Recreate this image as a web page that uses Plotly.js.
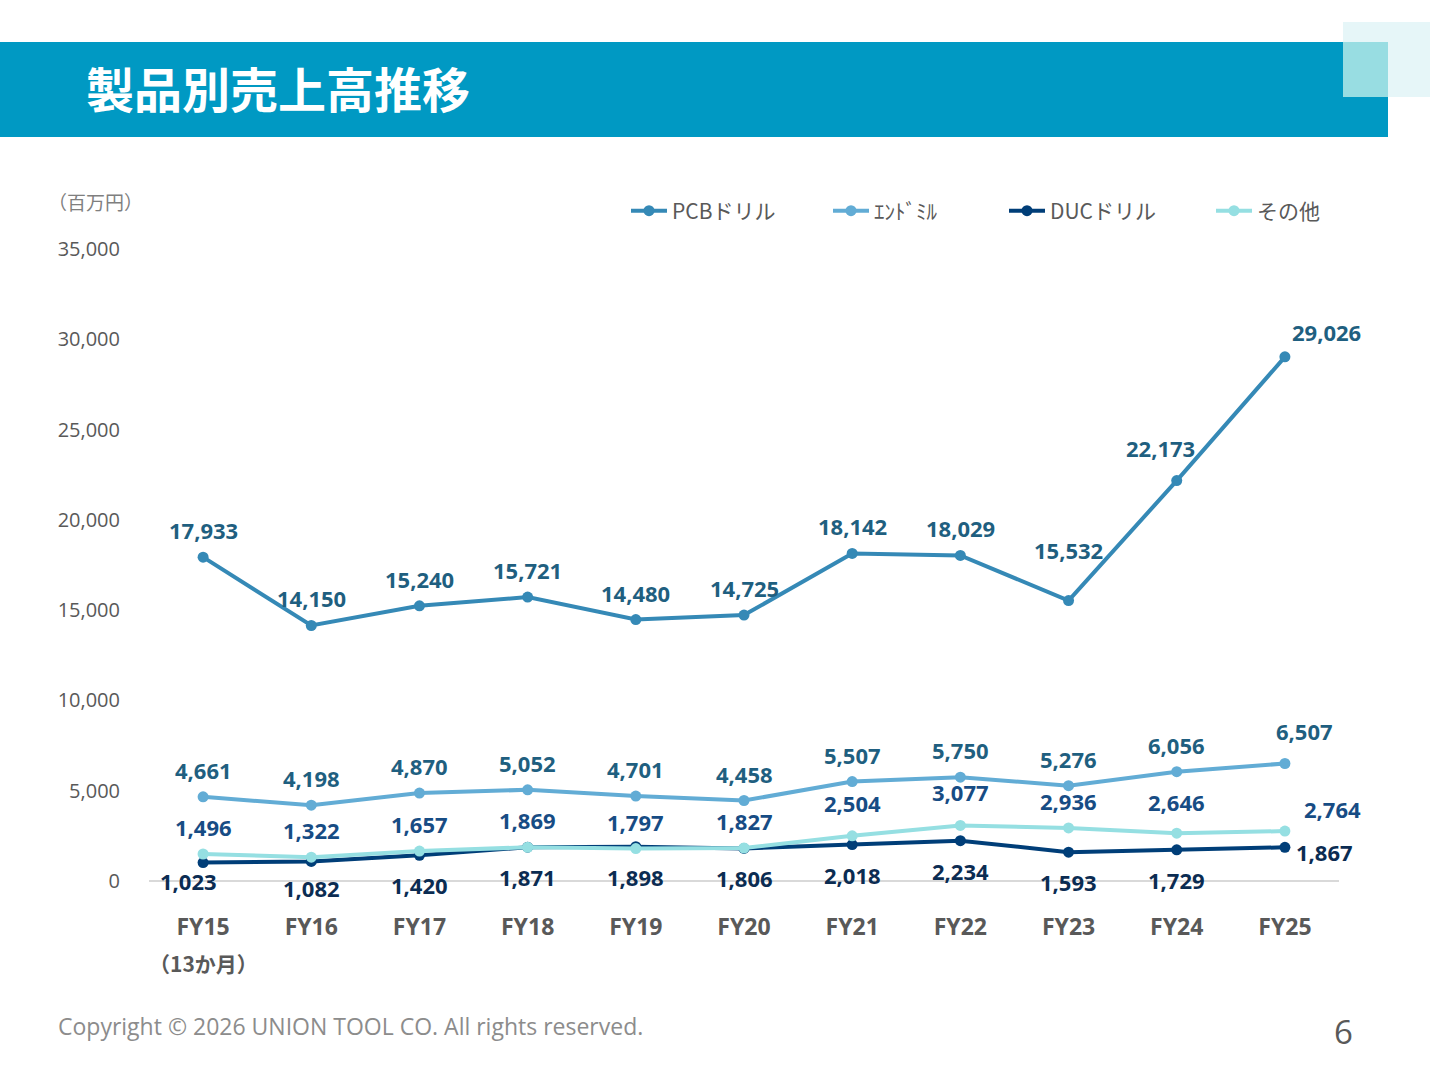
<!DOCTYPE html>
<html>
<head>
<meta charset="utf-8">
<script src="https://cdn.plot.ly/plotly-3.0.1.min.js"></script>
<style>
  html, body { margin: 0; padding: 0; background: #fff; }
  #chart { width: 1440px; height: 1080px; }
</style>
</head>
<body>
<div id="chart"></div>
<script>
'use strict';

const years = ["FY15", "FY16", "FY17", "FY18", "FY19", "FY20", "FY21", "FY22", "FY23", "FY24", "FY25"];
const pcbDrill = [17933, 14150, 15240, 15721, 14480, 14725, 18142, 18029, 15532, 22173, 29026];
const endMill = [4661, 4198, 4870, 5052, 4701, 4458, 5507, 5750, 5276, 6056, 6507];
const ducDrill = [1023, 1082, 1420, 1871, 1898, 1806, 2018, 2234, 1593, 1729, 1867];
const others = [1496, 1322, 1657, 1869, 1797, 1827, 2504, 3077, 2936, 2646, 2764];
const seriesNames = ["PCBドリル", "ｴﾝﾄﾞﾐﾙ", "DUCドリル", "その他"];
const yTicks = [0, 5000, 10000, 15000, 20000, 25000, 30000, 35000];

const jpFont = '"Noto Sans CJK JP", "Noto Sans", sans-serif';
const labelFont = '"Open Sans", "Noto Sans", sans-serif';

// plot box in pixels, used to place the page decorations
const plotLeft = 149, plotWidth = 1190, plotTop = 249, plotHeight = 632;
const px = x => (x - plotLeft) / plotWidth;
const py = y => (plotTop + plotHeight - y) / plotHeight;

function makeTrace(name, values, lineColor, legendId) {
  return {
    type: "scatter",
    mode: "lines+markers",
    name: name,
    x: years,
    y: values,
    legend: legendId,
    line: { color: lineColor, width: 4 },
    marker: { color: lineColor, size: 11 },
    cliponaxis: false,
    hoverinfo: "skip"
  };
}

// data labels: default offset per series plus a few nudged points
function makeLabels(values, color, dy, nudges) {
  return values.map((v, i) => {
    let n = nudges[i] || {};
    return {
      x: years[i], y: v, xref: "x", yref: "y",
      text: v.toLocaleString("en-US"),
      showarrow: false,
      xanchor: "center", yanchor: "middle",
      xshift: n.x || 0,
      yshift: n.y !== undefined ? n.y : dy,
      font: { family: labelFont, size: 22, color: color, weight: 700 }
    };
  });
}

const traces = [
  makeTrace(seriesNames[0], pcbDrill, "#3589b6", "legend"),
  makeTrace(seriesNames[1], endMill, "#62acd5", "legend2"),
  makeTrace(seriesNames[2], ducDrill, "#003e78", "legend3"),
  makeTrace(seriesNames[3], others, "#95dfe2", "legend4")
];

const labelAnnotations = [].concat(
  makeLabels(pcbDrill, "#1f5f80", 27, { 8: { y: 51 }, 9: { x: -16, y: 33 }, 10: { x: 42, y: 25 } }),
  makeLabels(endMill, "#1f5f80", 27, { 10: { x: 20, y: 33 } }),
  makeLabels(others, "#174c84", 27, { 6: { y: 33 }, 7: { y: 33 }, 9: { y: 31 }, 10: { x: 48, y: 22 } }),
  makeLabels(ducDrill, "#0b2c52", -30, { 0: { x: -15, y: -18 }, 1: { y: -27 }, 10: { x: 40, y: -5 } })
);

function legendAt(xPix) {
  return {
    orientation: "h",
    x: px(xPix), xanchor: "left",
    y: py(211), yanchor: "middle",
    font: { family: jpFont, size: 21, color: "#595959" },
    bgcolor: "rgba(0,0,0,0)",
    itemwidth: 36
  };
}

const layout = {
  width: 1440,
  height: 1080,
  margin: { l: plotLeft, r: 1440 - plotLeft - plotWidth, t: plotTop, b: 1080 - plotTop - plotHeight },
  paper_bgcolor: "#ffffff",
  plot_bgcolor: "#ffffff",
  showlegend: true,
  legend: legendAt(626),
  legend2: legendAt(828),
  legend3: legendAt(1004),
  legend4: legendAt(1211),
  xaxis: {
    type: "category",
    range: [-0.5, 10.5],
    showgrid: false,
    zeroline: false,
    showline: false,
    ticks: "",
    ticklabelstandoff: 30,
    tickfont: { family: labelFont, size: 23, color: "#595959", weight: 700 },
    fixedrange: true
  },
  yaxis: {
    range: [0, 35000],
    tickvals: yTicks,
    tickformat: ",",
    showgrid: false,
    zeroline: true,
    zerolinecolor: "#d9d9d9",
    zerolinewidth: 2,
    showline: false,
    ticks: "",
    ticklabelstandoff: 28,
    tickfont: { family: labelFont, size: 20, color: "#595959" },
    fixedrange: true
  },
  shapes: [
    { type: "rect", xref: "paper", yref: "paper", layer: "below",
      x0: px(0), x1: px(1388), y0: py(137), y1: py(42),
      fillcolor: "#0099c3", line: { width: 0 } },
    { type: "rect", xref: "paper", yref: "paper", layer: "below",
      x0: px(1343), x1: px(1430), y0: py(97), y1: py(22),
      fillcolor: "#e6f6f8", line: { width: 0 } },
    { type: "rect", xref: "paper", yref: "paper", layer: "below",
      x0: px(1343), x1: px(1388), y0: py(97), y1: py(42),
      fillcolor: "#98dde2", line: { width: 0 } }
  ],
  annotations: labelAnnotations.concat([
    { text: "製品別売上高推移", xref: "paper", yref: "paper",
      x: px(84), y: py(87), xanchor: "left", yanchor: "middle",
      showarrow: false, font: { family: jpFont, size: 48, color: "#ffffff", weight: 700 } },
    { text: "（百万円）", xref: "paper", yref: "paper",
      x: px(46), y: py(201), xanchor: "left", yanchor: "middle",
      showarrow: false, font: { family: jpFont, size: 19, color: "#7f7f7f" } },
    { text: "（13か月）", xref: "x", yref: "paper",
      x: years[0], y: py(963), xanchor: "center", yanchor: "middle",
      showarrow: false, font: { family: jpFont, size: 21, color: "#595959", weight: 700 } },
    { text: "Copyright © 2026 UNION TOOL CO. All rights reserved.", xref: "paper", yref: "paper",
      x: px(56), y: py(1026), xanchor: "left", yanchor: "middle",
      showarrow: false, font: { family: labelFont, size: 23, color: "#8c8c8c" } },
    { text: "6", xref: "paper", yref: "paper",
      x: px(1343), y: py(1031), xanchor: "center", yanchor: "middle",
      showarrow: false, font: { family: labelFont, size: 33, color: "#595959" } }
  ])
};

Plotly.newPlot("chart", traces, layout, { displayModeBar: false, staticPlot: true });
</script>
</body>
</html>
